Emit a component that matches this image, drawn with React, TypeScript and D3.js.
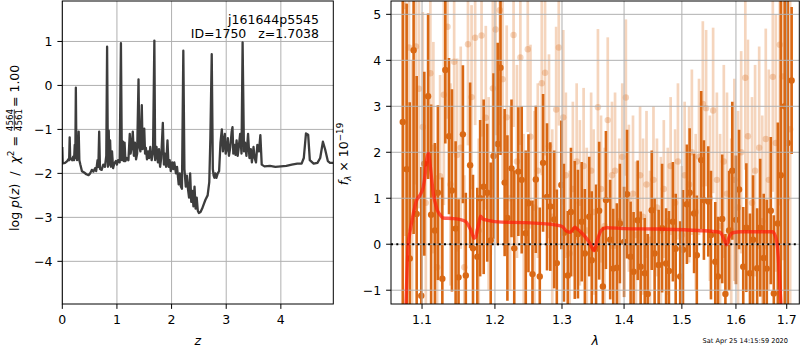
import React from 'react';
import * as d3 from 'd3';

// ---- left panel: log p(z) vs z ----
const pzZ = [
  0.000, 0.008, 0.05, 0.09, 0.11, 0.125, 0.135, 0.145, 0.16, 0.18,
  0.20, 0.215, 0.228, 0.238, 0.248, 0.258, 0.27, 0.285, 0.30, 0.312,
  0.33, 0.36, 0.40, 0.44, 0.48, 0.51, 0.54, 0.57, 0.60, 0.62,
  0.645, 0.66, 0.675, 0.69, 0.72, 0.75, 0.78, 0.805, 0.82, 0.835,
  0.85, 0.86, 0.875, 0.89, 0.91, 0.93, 0.95, 0.98, 1.00, 1.02,
  1.05, 1.073, 1.09, 1.11, 1.125, 1.14, 1.155, 1.18, 1.21, 1.235,
  1.25, 1.27, 1.29, 1.31, 1.33, 1.35, 1.37, 1.395, 1.41, 1.43,
  1.455, 1.47, 1.485, 1.50, 1.515, 1.53, 1.55, 1.57, 1.59, 1.61,
  1.635, 1.66, 1.685, 1.70, 1.725, 1.75, 1.77, 1.79, 1.81, 1.84,
  1.86, 1.88, 1.90, 1.925, 1.945, 1.965, 1.985, 2.01, 2.03, 2.05,
  2.08, 2.10, 2.13, 2.15, 2.17, 2.19, 2.215, 2.235, 2.26, 2.28,
  2.30, 2.32, 2.34, 2.36, 2.38, 2.40, 2.42, 2.44, 2.46, 2.48,
  2.50, 2.53, 2.56, 2.59, 2.62, 2.66, 2.69, 2.71, 2.735, 2.755,
  2.77, 2.785, 2.80, 2.82, 2.845, 2.87, 2.895, 2.92, 2.94, 2.96,
  2.975, 2.99, 3.01, 3.03, 3.05, 3.075, 3.10, 3.115, 3.13, 3.15,
  3.17, 3.19, 3.21, 3.23, 3.255, 3.28, 3.30, 3.325, 3.345, 3.37,
  3.40, 3.425, 3.45, 3.47, 3.50, 3.52, 3.545, 3.57, 3.60, 3.625,
  3.65, 3.70, 3.80, 3.90, 4.00, 4.10, 4.20, 4.30, 4.38, 4.42,
  4.46, 4.50, 4.53, 4.60, 4.67, 4.72, 4.77, 4.81, 4.86, 4.90,
  4.96,
];
const pzLog = [
  -1.40, -1.77, -1.76, -1.72, -1.68, -1.70, -1.18, -1.68, -1.66, -1.70,
  -1.62, -1.70, -1.35, -1.65, -0.05, -1.55, -1.70, -1.62, -1.05, -1.70,
  -1.80, -1.95, -1.98, -2.02, -2.04, -2.00, -1.92, -1.96, -1.88, -1.95,
  -1.70, -1.85, -1.05, -1.90, -1.92, -1.80, -1.85, -1.60, 0.88, -1.85,
  -1.03, -1.80, -1.25, -1.85, -1.50, -1.88, -1.78, -1.72, -1.80, -1.70,
  -1.75, 0.96, -1.70, -1.28, -1.72, -1.30, -1.72, -1.65, -1.70, -1.10,
  -1.55, -1.40, -1.05, -1.60, -1.30, -1.68, -1.55, 0.14, -1.40, -1.50,
  -0.45, -1.45, -1.30, -0.98, -1.55, -1.42, -1.68, -1.50, -1.65, -1.40,
  -1.70, -1.55, 1.02, -1.70, -1.40, -1.75, -1.45, -1.85, -1.65, -0.85,
  -1.80, -1.55, -1.85, -1.25, -1.85, -1.70, -1.95, -1.75, -1.90, -1.75,
  -2.00, -1.85, -2.25, -2.00, -2.30, -2.35, 0.79, -1.90, -2.30, -2.05,
  -2.35, -2.55, -2.00, -2.65, -2.40, -2.75, -2.30, -2.80, -2.55, -2.85,
  -2.90, -2.88, -2.80, -2.70, -2.60, -2.50, -2.20, -1.20, 0.71, -1.90,
  -2.05, -2.10, -2.00, -2.10, -2.00, -1.95, -1.30, -1.00, -1.50, -1.25,
  -1.10, -1.55, -1.45, -1.20, -1.60, -1.40, -1.05, -0.95, -1.55, -1.35,
  -1.58, -1.25, -1.60, -1.40, -1.10, -1.55, 0.98, -1.50, -1.30, -1.60,
  -1.10, -1.65, -1.45, -1.75, -1.40, -1.65, -1.75, -1.35, -1.50, -1.13,
  -1.80, -1.84, -1.83, -1.85, -1.84, -1.83, -1.80, -1.78, -1.78, -1.65,
  -1.09, -1.12, -1.70, -1.78, -1.76, -1.65, -1.28, -1.45, -1.72, -1.76,
  -1.76,
];
const pzXTicks = [0, 1, 2, 3, 4];
const pzYTicks = [-4, -3, -2, -1, 0, 1];

// ---- right panel: spectrum (f_lambda x 1e-19) ----
const darkWave = [
  1.075, 1.080, 1.084, 1.089, 1.093, 1.099, 1.103, 1.108, 1.112, 1.117,
  1.121, 1.127, 1.131, 1.136, 1.140, 1.145, 1.149, 1.155, 1.159, 1.165,
  1.169, 1.175, 1.179, 1.184, 1.189, 1.194, 1.198, 1.204, 1.208, 1.214,
  1.218, 1.224, 1.228, 1.234, 1.239, 1.245, 1.249, 1.255, 1.260, 1.266,
  1.271, 1.277, 1.282, 1.288, 1.292, 1.299, 1.303, 1.309, 1.314, 1.320,
  1.325, 1.331, 1.336, 1.343, 1.347, 1.354, 1.359, 1.365, 1.370, 1.377,
  1.382, 1.388, 1.393, 1.400, 1.405, 1.411, 1.416, 1.423, 1.428, 1.435,
  1.440, 1.447, 1.452, 1.459, 1.465, 1.472, 1.477, 1.484, 1.489, 1.497,
  1.502, 1.509, 1.514, 1.522, 1.527, 1.535, 1.540, 1.548, 1.553, 1.561,
  1.566, 1.574, 1.580, 1.587, 1.593, 1.600, 1.606, 1.614, 1.620, 1.627,
  1.633, 1.641, 1.647, 1.654, 1.660, 1.668, 1.674, 1.682, 1.688, 1.696,
  1.702, 1.710,
];
const darkFlux = [
  2.66, 1.63, -0.31, 4.22, 0.66, -1.12, 1.75, 3.22, 0.64, 0.30,
  1.12, -0.75, 3.79, 2.35, 1.17, 0.34, -0.72, 2.39, -0.68, 1.72,
  -0.09, -0.27, 1.00, 1.25, 1.12, 0.08, 1.92, 2.18, 3.84, 1.34,
  0.57, 1.65, -0.09, 1.58, 1.40, 0.24, 0.89, -0.65, 1.41, -0.70,
  1.77, 1.03, 0.82, 0.54, -0.41, 1.29, 0.25, -0.68, 0.70, 0.31,
  0.22, 0.49, -0.20, 0.60, -0.35, -0.10, 0.73, -0.92, 0.96, 0.10,
  -0.53, -0.51, 0.45, 0.05, 1.09, -0.27, -0.60, 0.52, -0.49, -0.63,
  -1.08, 0.74, -0.20, -0.45, 0.35, -0.42, -0.58, 0.49, -0.10, -0.70,
  -0.12, 0.87, 1.12, 0.67, -0.24, 1.83, 0.96, 0.93, 0.20, -0.38,
  -0.70, 0.55, -1.08, 0.30, 1.60, 0.53, 1.19, -0.49, 0.36, -0.63,
  0.10, -0.52, 0.36, -0.30, -0.53, 0.73, -1.07, 0.45, 1.50, 3.00,
  2.20, 3.56,
];
const darkErr = [
  4.5, 3.6, 3.4, 4.0, 3.0, 2.8, 2.0, 1.8, 2.4, 1.9,
  1.9, 2.2, 1.6, 1.7, 2.2, 1.9, 1.7, 1.5, 1.8, 1.8,
  1.6, 1.5, 1.7, 1.9, 1.5, 1.7, 1.8, 2.2, 1.9, 1.6,
  1.8, 1.5, 1.7, 1.4, 1.6, 1.8, 1.5, 1.6, 1.6, 1.5,
  1.5, 1.6, 1.4, 1.5, 1.6, 1.4, 1.5, 1.4, 1.4, 1.5,
  1.4, 1.3, 1.4, 1.3, 1.5, 1.4, 1.5, 1.3, 1.5, 1.3,
  1.3, 1.4, 1.3, 1.2, 1.4, 1.2, 1.3, 1.3, 1.2, 1.2,
  1.3, 1.3, 1.2, 1.2, 1.4, 1.2, 1.3, 1.3, 1.2, 1.2,
  1.3, 1.3, 1.4, 1.3, 1.3, 1.5, 1.3, 1.2, 1.4, 1.3,
  1.3, 1.4, 1.3, 1.3, 1.5, 1.4, 1.3, 1.3, 1.4, 1.3,
  1.4, 1.3, 1.5, 1.4, 1.5, 1.6, 1.7, 2.2, 4.5, 5.0,
  5.0, 1.6,
];

const lightWave = [
  1.078, 1.083, 1.087, 1.092, 1.096, 1.101, 1.105, 1.111, 1.115, 1.120,
  1.124, 1.129, 1.134, 1.138, 1.143, 1.147, 1.152, 1.157, 1.162, 1.167,
  1.172, 1.177, 1.181, 1.187, 1.191, 1.197, 1.201, 1.207, 1.211, 1.217,
  1.222, 1.227, 1.232, 1.237, 1.242, 1.248, 1.252, 1.258, 1.263, 1.269,
  1.274, 1.280, 1.285, 1.291, 1.295, 1.302, 1.306, 1.312, 1.317, 1.323,
  1.328, 1.334, 1.339, 1.346, 1.350, 1.357, 1.362, 1.368, 1.373, 1.380,
  1.385, 1.392, 1.397, 1.403, 1.408, 1.415, 1.420, 1.427, 1.432, 1.438,
  1.444, 1.450, 1.456, 1.463, 1.468, 1.475, 1.480, 1.488, 1.493, 1.500,
  1.505, 1.513, 1.518, 1.525, 1.531, 1.538, 1.544, 1.551, 1.557, 1.564,
  1.570, 1.577, 1.583, 1.591, 1.597, 1.604, 1.610, 1.618, 1.623, 1.631,
  1.637, 1.645, 1.651, 1.658, 1.664, 1.672, 1.678, 1.686, 1.692, 1.700,
  1.707,
];
const lightFlux = [
  5.18, 4.28, 0.50, 4.30, 3.38, 2.55, 0.90, 3.72, 2.10, -0.50,
  1.48, 3.25, 4.73, 1.30, 3.97, 1.94, 2.10, -0.50, 4.35, 3.20,
  4.49, 0.30, 4.54, 2.75, 1.10, 3.39, 4.67, 5.09, 3.59, 2.76,
  1.00, 4.55, 1.80, 4.06, 0.40, 4.24, 2.34, 0.80, 1.60, 3.50,
  3.73, 2.13, 0.60, 2.93, 4.28, 2.76, 1.50, -0.20, 1.20, 1.80,
  0.90, 1.70, 0.30, 1.60, 0.70, 2.98, 1.20, 0.40, 2.70, 1.50,
  1.60, 0.50, 1.90, 3.19, 1.00, 1.10, 0.20, 1.50, 0.60, 1.30,
  0.10, 1.40, 0.80, 0.30, 1.20, 0.50, 1.70, 0.90, 1.80, 0.20,
  1.50, 1.30, 2.00, 0.70, 1.90, 3.05, 2.96, 1.00, 2.91, 1.40,
  0.40, 1.80, 1.10, 0.30, 1.40, 0.80, 2.00, 3.62, 2.35, 0.90,
  1.60, 2.10, 0.50, 2.29, 1.40, 3.64, 2.20, 4.34, 3.65, 1.00,
  2.50,
];
const lightErr = [
  5.0, 4.0, 3.5, 3.0, 2.6, 2.5, 2.3, 2.1, 2.3, 2.0,
  2.2, 2.4, 2.0, 2.2, 2.0, 2.1, 2.2, 2.0, 2.2, 2.0,
  1.9, 2.0, 2.2, 2.0, 2.1, 2.2, 2.3, 2.5, 2.2, 2.0,
  2.0, 2.0, 2.1, 1.9, 2.0, 1.8, 2.0, 2.1, 1.9, 2.0,
  1.8, 2.0, 1.9, 1.8, 1.7, 1.9, 1.8, 1.8, 1.9, 1.7,
  1.8, 1.7, 1.8, 1.7, 1.8, 1.7, 1.6, 1.7, 1.8, 1.6,
  1.7, 1.8, 1.6, 1.7, 1.6, 1.7, 1.6, 1.5, 1.7, 1.6,
  1.5, 1.6, 1.5, 1.6, 1.5, 1.6, 1.5, 1.6, 1.7, 1.5,
  1.6, 1.7, 1.8, 1.7, 1.7, 1.8, 1.7, 1.8, 1.8, 1.9,
  2.0, 2.1, 2.2, 2.0, 2.2, 2.1, 2.2, 2.0, 2.1, 2.3,
  2.3, 2.2, 2.3, 2.4, 2.4, 2.5, 2.8, 3.5, 4.0, 4.5,
  4.0,
];

const modelWave = [
  1.0790, 1.0805, 1.0820, 1.0840, 1.0865, 1.0887, 1.0930, 1.0974, 1.1017, 1.1040,
  1.1060, 1.1083, 1.1105, 1.1128, 1.1150, 1.1170, 1.1200, 1.1240, 1.1280, 1.1400,
  1.1500, 1.1590, 1.1630, 1.1660, 1.1706, 1.1730, 1.1750, 1.1775, 1.1796, 1.1830,
  1.1900, 1.2100, 1.2440, 1.2890, 1.2995, 1.3075, 1.3124, 1.3160, 1.3200, 1.3250,
  1.3300, 1.3360, 1.3440, 1.3510, 1.3560, 1.3628, 1.3710, 1.4000, 1.4600, 1.5300,
  1.5697, 1.5750, 1.5790, 1.5820, 1.5870, 1.5940, 1.6100, 1.6710, 1.6770, 1.6817,
  1.6840, 1.6880, 1.6900,
];
const modelFlux = [
  -1.40, -0.60, 0.00, 0.24, 0.48, 0.67, 0.96, 1.07, 1.25, 1.50,
  1.83, 1.98, 1.75, 1.40, 1.10, 0.93, 0.75, 0.64, 0.57, 0.56,
  0.54, 0.49, 0.40, 0.31, 0.13, 0.17, 0.31, 0.48, 0.61, 0.55,
  0.52, 0.48, 0.47, 0.42, 0.39, 0.28, 0.26, 0.30, 0.37, 0.32,
  0.26, 0.17, 0.02, -0.14, 0.09, 0.31, 0.36, 0.34, 0.33, 0.30,
  0.26, 0.17, 0.06, -0.01, 0.15, 0.25, 0.27, 0.27, 0.18, -0.10,
  -0.46, -1.26, -1.60,
];
const specXTicks = [1.1, 1.2, 1.3, 1.4, 1.5, 1.6, 1.7];
const specYTicks = [-1, 0, 1, 2, 3, 4, 5];

const ORANGE = '#d96814';
const GRID = '#b0b0b0';
const FONT = 'DejaVu Sans, sans-serif';
const fmt = (v: number) => String(v).replace('-', '\u2212');

export default function App() {
  // panel boxes
  const L = { x0: 62.3, x1: 333.3, y0: 1, y1: 304 };
  const R = { x0: 391, x1: 799.3, y0: 1, y1: 304 };

  const zx = d3.scaleLinear().domain([0, 4.96]).range([L.x0, L.x1]);
  const zy = d3.scaleLinear().domain([-4.97, 1.92]).range([L.y1, L.y0]);
  const lx = d3.scaleLog().domain([1.06, 1.7257]).range([R.x0, R.x1]);
  const fy = d3.scaleLinear().domain([-1.3, 5.29]).range([R.y1, R.y0]);

  const pzPath = d3.line<number>()
    .x((_, i) => zx(pzZ[i]))
    .y(d => zy(d))(pzLog) || '';

  const modelPath = d3.line<number>()
    .x((_, i) => lx(modelWave[i]))
    .y(d => fy(d))
    .curve(d3.curveMonotoneX)(modelFlux) || '';

  const tickLen = 4.9;

  return (
    <svg width={800} height={350} style={{ position: 'absolute', left: 0, top: 0, background: '#fff' }}
      fontFamily={FONT}>
      <defs>
        <clipPath id="clipL"><rect x={L.x0} y={L.y0} width={L.x1 - L.x0} height={L.y1 - L.y0} /></clipPath>
        <clipPath id="clipR"><rect x={R.x0} y={R.y0} width={R.x1 - R.x0} height={R.y1 - R.y0} /></clipPath>
      </defs>

      {/* ----- left panel ----- */}
      <g>
        {pzXTicks.map(t => (
          <line key={'lgx' + t} x1={zx(t)} x2={zx(t)} y1={L.y0} y2={L.y1} stroke={GRID} strokeWidth={1} />
        ))}
        {pzYTicks.map(t => (
          <line key={'lgy' + t} x1={L.x0} x2={L.x1} y1={zy(t)} y2={zy(t)} stroke={GRID} strokeWidth={1} />
        ))}
        <path d={pzPath} fill="none" stroke="#3d3d3d" strokeWidth={2.3} strokeLinejoin="round"
          clipPath="url(#clipL)" />
        <rect x={L.x0} y={L.y0} width={L.x1 - L.x0} height={L.y1 - L.y0} fill="none" stroke="#000" strokeWidth={1} />
        {pzXTicks.map(t => (
          <g key={'ltx' + t}>
            <line x1={zx(t)} x2={zx(t)} y1={L.y1} y2={L.y1 + tickLen} stroke="#000" />
            <text x={zx(t)} y={324} fontSize={12.5} textAnchor="middle">{fmt(t)}</text>
          </g>
        ))}
        {pzYTicks.map(t => (
          <g key={'lty' + t}>
            <line x1={L.x0 - tickLen} x2={L.x0} y1={zy(t)} y2={zy(t)} stroke="#000" />
            <text x={L.x0 - 9.8} y={zy(t) + 4.5} fontSize={12.5} textAnchor="end">{fmt(t)}</text>
          </g>
        ))}
        <text x={319} y={24} fontSize={12.5} textAnchor="end">j161644p5545</text>
        <text x={319} y={38} fontSize={12.5} textAnchor="end" style={{ whiteSpace: 'pre' }}>{'ID=1750   z=1.7038'}</text>
        <text x={(L.x0 + L.x1) / 2} y={345} fontSize={12.5} textAnchor="middle" fontStyle="italic">z</text>
        <g transform="translate(12,152) rotate(-90)" fontSize={12.5}>
          <text x={20} y={6.5} textAnchor="end" style={{ whiteSpace: 'pre' }}>
            {'log '}<tspan fontStyle="italic">p</tspan>{'('}<tspan fontStyle="italic">z</tspan>{')  /  '}
            <tspan fontStyle="italic">χ</tspan><tspan fontSize={9} dy={-5}>2</tspan><tspan dy={5}>{' = '}</tspan>
          </text>
          <text x={32} y={0.5} fontSize={8.8} textAnchor="middle">4564</text>
          <line x1={21.5} x2={42.5} y1={2.3} y2={2.3} stroke="#000" strokeWidth={0.8} />
          <text x={32} y={9.8} fontSize={8.8} textAnchor="middle">4561</text>
          <text x={45} y={6.5} style={{ whiteSpace: 'pre' }}>{'= 1.00'}</text>
        </g>
      </g>

      {/* ----- right panel ----- */}
      <g>
        <g clipPath="url(#clipR)">
          <g opacity={0.28}>
            {lightWave.map((w, i) => (
              <line key={'lb' + i} x1={lx(w)} x2={lx(w)} y1={fy(lightFlux[i] - lightErr[i])}
                y2={fy(lightFlux[i] + lightErr[i])} stroke={ORANGE} strokeWidth={2.7} />
            ))}
          </g>
          {lightWave.map((w, i) => (
            <circle key={'lc' + i} cx={lx(w)} cy={fy(lightFlux[i])} r={3.2} fill={ORANGE} opacity={0.28} />
          ))}
          {darkWave.map((w, i) => (
            <line key={'db' + i} x1={lx(w)} x2={lx(w)} y1={fy(darkFlux[i] - darkErr[i])}
              y2={fy(darkFlux[i] + darkErr[i])} stroke={ORANGE} strokeWidth={2.6} />
          ))}
          {darkWave.map((w, i) => (
            <circle key={'dc' + i} cx={lx(w)} cy={fy(darkFlux[i])} r={3.2} fill={ORANGE} />
          ))}
          {specXTicks.map(t => (
            <line key={'rgx' + t} x1={lx(t)} x2={lx(t)} y1={R.y0} y2={R.y1} stroke={GRID} strokeWidth={1} />
          ))}
          {specYTicks.map(t => (
            <line key={'rgy' + t} x1={R.x0} x2={R.x1} y1={fy(t)} y2={fy(t)} stroke={GRID} strokeWidth={1} />
          ))}
          <line x1={R.x0} x2={R.x1} y1={fy(0)} y2={fy(0)} stroke="#000" strokeWidth={2} strokeDasharray="2,3.3" />
          <path d={modelPath} fill="none" stroke="#ff1a0a" strokeOpacity={0.7} strokeWidth={3.4}
            strokeLinejoin="round" />
        </g>
        <rect x={R.x0} y={R.y0} width={R.x1 - R.x0} height={R.y1 - R.y0} fill="none" stroke="#000" strokeWidth={1} />
        {specXTicks.map(t => (
          <g key={'rtx' + t}>
            <line x1={lx(t)} x2={lx(t)} y1={R.y1} y2={R.y1 + tickLen} stroke="#000" />
            <text x={lx(t)} y={324} fontSize={12.5} textAnchor="middle">{t.toFixed(1)}</text>
          </g>
        ))}
        {specYTicks.map(t => (
          <g key={'rty' + t}>
            <line x1={R.x0 - tickLen} x2={R.x0} y1={fy(t)} y2={fy(t)} stroke="#000" />
            <text x={R.x0 - 9.8} y={fy(t) + 4.5} fontSize={12.5} textAnchor="end">{fmt(t)}</text>
          </g>
        ))}
        <text x={(R.x0 + R.x1) / 2} y={345} fontSize={12.5} textAnchor="middle" fontStyle="italic">λ</text>
        <g transform="translate(341,154) rotate(-90)" fontSize={12.5}>
          <text x={0} y={7} textAnchor="middle" style={{ whiteSpace: 'pre' }}>
            <tspan fontStyle="italic">f</tspan>
            <tspan fontSize={8.8} fontStyle="italic" dy={3}>λ</tspan>
            <tspan dy={-3}>{' × 10'}</tspan>
            <tspan fontSize={8.8} dy={-5}>{'\u221219'}</tspan>
          </text>
        </g>
        <text x={788} y={343} fontSize={6.6} textAnchor="end">Sat Apr 25 14:15:59 2020</text>
      </g>
    </svg>
  );
}
